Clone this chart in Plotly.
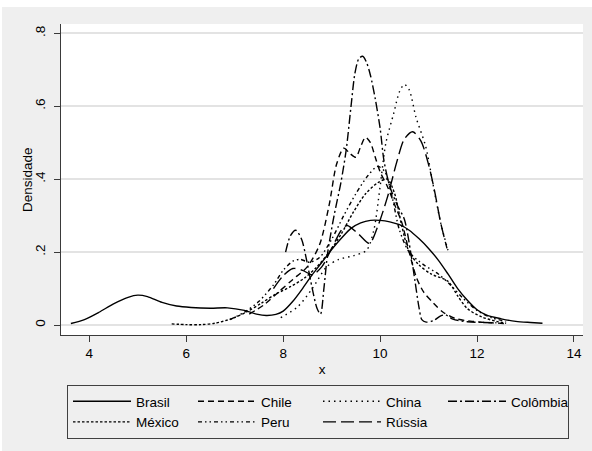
import plotly.graph_objects as go

# ---------------- data ----------------
brasil_x = [3.62, 3.9, 4.2, 4.5, 4.8, 5.0, 5.2, 5.5, 5.8, 6.1, 6.5, 6.85, 7.2, 7.45, 7.65, 7.85,
            8.0, 8.2, 8.4, 8.6, 8.8, 9.0, 9.2, 9.4, 9.6, 9.8, 10.0, 10.2, 10.4, 10.6, 10.8, 11.0,
            11.2, 11.4, 11.6, 11.8, 12.0, 12.2, 12.5, 12.8, 13.1, 13.35]
brasil_y = [0.004, 0.015, 0.035, 0.058, 0.076, 0.082, 0.078, 0.062, 0.052, 0.048, 0.046, 0.047,
            0.040, 0.030, 0.026, 0.029, 0.038, 0.065, 0.100, 0.138, 0.172, 0.207, 0.238, 0.265,
            0.280, 0.287, 0.287, 0.283, 0.275, 0.260, 0.237, 0.210, 0.178, 0.140, 0.100, 0.068,
            0.042, 0.027, 0.017, 0.010, 0.007, 0.005]

chile_x = [7.3, 7.6, 7.9, 8.2, 8.5, 8.75, 8.95, 9.1, 9.25, 9.38, 9.5, 9.6, 9.7, 9.8, 9.9, 10.0,
           10.15, 10.3, 10.45, 10.6, 10.75, 10.9, 11.1, 11.3, 11.55, 11.9, 12.3, 12.6]
chile_y = [0.030, 0.055, 0.090, 0.125, 0.160, 0.220, 0.330, 0.440, 0.485, 0.470, 0.460, 0.490,
           0.515, 0.500, 0.460, 0.420, 0.380, 0.330, 0.280, 0.200, 0.130, 0.090, 0.060, 0.035,
           0.018, 0.010, 0.006, 0.004]

china_x = [7.95, 8.3, 8.6, 8.9, 9.15, 9.45, 9.72, 9.87, 10.0, 10.12, 10.28, 10.4, 10.5, 10.6,
           10.74, 10.94, 11.1, 11.25, 11.4]
china_y = [0.020, 0.050, 0.100, 0.160, 0.180, 0.190, 0.205, 0.260, 0.380, 0.500, 0.580, 0.640,
           0.660, 0.645, 0.570, 0.490, 0.380, 0.280, 0.205]

colombia_x = [8.05, 8.15, 8.26, 8.38, 8.48, 8.6, 8.7, 8.77, 8.84, 8.92, 9.05, 9.19, 9.3, 9.4,
              9.48, 9.56, 9.64, 9.72, 9.8, 9.9, 10.0, 10.08, 10.2, 10.35, 10.5, 10.63, 10.72,
              10.8, 10.86, 10.95, 11.1, 11.25, 11.35, 11.5, 11.8, 12.1, 12.4]
colombia_y = [0.200, 0.245, 0.260, 0.235, 0.180, 0.100, 0.045, 0.030, 0.100, 0.200, 0.300,
              0.390, 0.480, 0.600, 0.690, 0.730, 0.737, 0.720, 0.685, 0.620, 0.540, 0.450,
              0.380, 0.330, 0.290, 0.200, 0.120, 0.050, 0.015, 0.008, 0.012, 0.025, 0.028,
              0.016, 0.009, 0.007, 0.006]

mexico_x = [5.7, 6.0, 6.3, 6.6, 6.95, 7.25, 7.55, 7.85, 8.15, 8.45, 8.7, 8.95, 9.2, 9.45, 9.7,
            9.95, 10.15, 10.3, 10.45, 10.6, 10.8, 11.05, 11.4, 11.6, 11.8, 12.1, 12.4, 12.6]
mexico_y = [0.003, 0.001, 0.001, 0.005, 0.018, 0.036, 0.060, 0.085, 0.105, 0.130, 0.160, 0.200,
            0.250, 0.310, 0.360, 0.390, 0.400, 0.360, 0.270, 0.200, 0.165, 0.140, 0.120, 0.080,
            0.045, 0.022, 0.010, 0.005]

peru_x = [6.9, 7.2, 7.5, 7.8, 8.0, 8.2, 8.35, 8.55, 8.75, 9.0, 9.25, 9.5, 9.75, 9.95, 10.1,
          10.25, 10.4, 10.6, 10.9, 11.2, 11.45, 11.7, 12.0, 12.3, 12.6]
peru_y = [0.015, 0.035, 0.065, 0.110, 0.150, 0.175, 0.180, 0.172, 0.185, 0.235, 0.300, 0.360,
          0.410, 0.435, 0.420, 0.350, 0.260, 0.200, 0.165, 0.140, 0.110, 0.075, 0.040, 0.020,
          0.010]

russia_x = [7.8, 8.0, 8.2, 8.4, 8.6, 8.8, 9.0, 9.2, 9.32, 9.55, 9.78, 9.95, 10.15, 10.35, 10.5,
            10.67, 10.84, 11.0, 11.12, 11.25, 11.38]
russia_y = [0.100, 0.135, 0.155, 0.150, 0.138, 0.160, 0.210, 0.260, 0.273, 0.250, 0.224, 0.270,
            0.350, 0.450, 0.510, 0.530, 0.505, 0.440, 0.370, 0.280, 0.210]

series_names = ["Brasil", "Chile", "China", "Colômbia", "México", "Peru", "Rússia"]
x_ticks = [4, 6, 8, 10, 12, 14]
y_ticks = [0, 0.2, 0.4, 0.6, 0.8]
y_tick_labels = ["0", ".2", ".4", ".6", ".8"]

# ---------------- figure ----------------
series_data = [(brasil_x, brasil_y), (chile_x, chile_y), (china_x, china_y),
               (colombia_x, colombia_y), (mexico_x, mexico_y), (peru_x, peru_y),
               (russia_x, russia_y)]
dashes = ["solid", "6px,4px", "1.5px,4px", "9px,3px,2px,3px", "2.5px,2px",
          "4px,3px,1.5px,3px,1.5px,3px", "13px,5px"]

W, H = 592, 451
L, R, T, B = 61, 9, 24, 116
PW, PH = W - L - R, H - T - B

fig = go.Figure()
for name, (xs, ys), dash in zip(series_names, series_data, dashes):
    fig.add_trace(go.Scatter(
        x=xs, y=ys, mode="lines", name=name,
        line=dict(color="black", width=1.4, dash=dash, shape="spline", smoothing=0.8),
    ))

axis_col = "#3a3a3a"
fig.update_layout(
    width=W, height=H,
    margin=dict(l=L, r=R, t=T, b=B, autoexpand=False),
    paper_bgcolor="#efefef",
    plot_bgcolor="white",
    font=dict(family="Arial, Liberation Sans, sans-serif", size=13.5, color="black"),
    showlegend=True,
    legend=dict(
        orientation="h",
        x=(67 - L) / PW, xanchor="left",
        y=-(385 - (T + PH)) / PH, yanchor="top",
        itemwidth=58,
        entrywidth=52, entrywidthmode="pixels",
        bgcolor="#efefef", bordercolor="#404040", borderwidth=1,
        font=dict(size=13.5),
        traceorder="normal",
    ),
    xaxis=dict(
        range=[3.416, 14.186], tickvals=x_ticks, ticks="outside", ticklen=6,
        tickcolor=axis_col, showline=True, linecolor=axis_col, linewidth=1,
        showgrid=False, zeroline=False,
        title=dict(text="x", standoff=4, font=dict(size=13.5)),
    ),
    yaxis=dict(
        range=[-0.0274, 0.8255], tickvals=y_ticks, ticktext=y_tick_labels,
        tickangle=-90, ticks="outside", ticklen=6, tickcolor=axis_col,
        ticklabelstandoff=4,
        showline=True, linecolor=axis_col, linewidth=1,
        showgrid=True, gridcolor="#e3e3e3", gridwidth=1.5, zeroline=False,
    ),
    annotations=[
        dict(text="Densidade", textangle=-90, xref="paper", yref="paper",
             x=(27 - L) / PW, y=(T + PH - 180) / PH, xanchor="center", yanchor="middle",
             showarrow=False, font=dict(size=13.5)),
    ],
    shapes=[
        dict(type="rect", xref="paper", yref="paper", layer="below",
             x0=-L / PW, x1=(W - L) / PW, y0=(PH + T - 7) / PH, y1=(PH + T) / PH,
             fillcolor="white", line=dict(width=0)),
        dict(type="rect", xref="paper", yref="paper", layer="below",
             x0=-L / PW, x1=(2 - L) / PW, y0=-B / PH, y1=(PH + T) / PH,
             fillcolor="white", line=dict(width=0)),
    ],
)

fig.write_html("out.html", config={"displayModeBar": False},
               post_script="document.body.style.margin='0';")
